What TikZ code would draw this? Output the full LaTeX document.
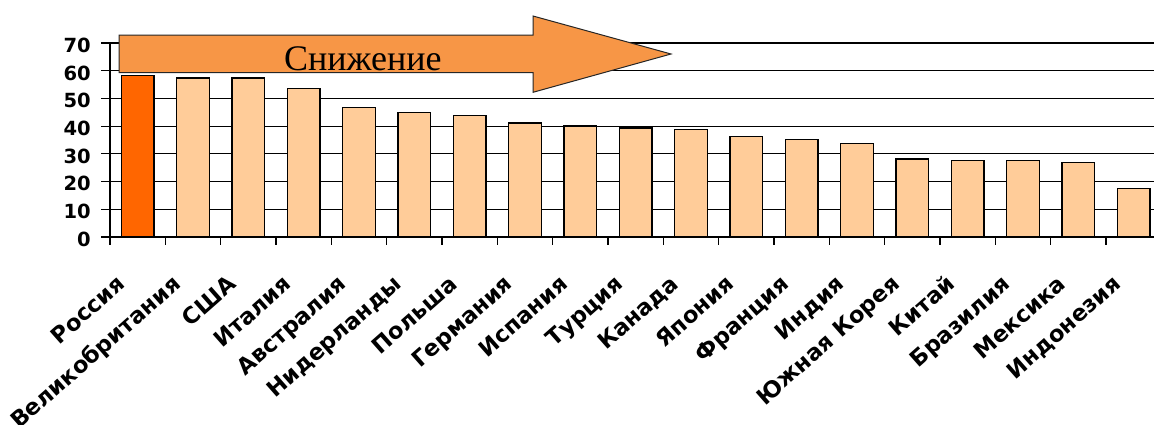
\documentclass[tikz,border=0pt]{standalone}
\usepackage{fontspec}
\setsansfont{DejaVu Sans}
\newfontfamily\trendfont{Liberation Serif}
\definecolor{barhi}{HTML}{FF6600}
\definecolor{barlo}{HTML}{FFCC99}
\definecolor{arrowfill}{HTML}{F79646}

\begin{document}
\begin{tikzpicture}[x=1pt,y=-1pt,
  gridline/.style={line width=1.2pt, black},
  axisline/.style={line width=1.6pt, black},
  bar/.style={draw=black, line width=1.3pt},
  ylab/.style={font=\sffamily\bfseries\fontsize{19.5}{20}\selectfont, anchor=base east, inner sep=0pt},
  catlab/.style={font=\sffamily\bfseries\fontsize{22.5}{23}\selectfont, anchor=north east,
                 rotate=41.4, inner sep=0pt, text height=16.4pt, text depth=0pt},
  trendarrow/.style={fill=arrowfill, draw=black!85, line width=1pt, line join=miter},
]
\useasboundingbox (0,0) rectangle (1154,424);

% horizontal grid and value scale
\foreach \v in {0,10,...,70} {
  \pgfmathsetmacro\gy{237-\v*194/70}
  \draw[gridline] (101,\gy) -- (1154,\gy);
  \node[ylab] (val\v) at (91,\gy+9.3) {\v};
}

% bars and category labels
\foreach \cname/\cval/\cfill [count=\i from 0] in {
  Россия/58.2/barhi, Великобритания/57.4/barlo, США/57.4/barlo, Италия/53.7/barlo,
  Австралия/46.8/barlo, Нидерланды/44.9/barlo, Польша/43.8/barlo, Германия/41.1/barlo,
  Испания/40.0/barlo, Турция/39.3/barlo, Канада/38.7/barlo, Япония/36.2/barlo,
  Франция/35.1/barlo, Индия/33.8/barlo, Южная Корея/28.1/barlo, Китай/27.5/barlo,
  Бразилия/27.5/barlo, Мексика/26.8/barlo, Индонезия/17.6/barlo} {
  \pgfmathsetmacro\cx{110+(\i+0.5)*55.33}
  \pgfmathsetmacro\bt{237-\cval*194/70}
  \draw[bar, fill=\cfill] (\cx-16.3,237) rectangle (\cx+16.3,\bt);
  \node[catlab] (cat\i) at (\cx-22,273.7) {\cname};
}

% axes and category ticks
\draw[axisline] (110,43) -- (110,237);
\draw[axisline] (110,237) -- (1154,237);
\foreach \k in {0,...,18}
  \draw[axisline, line width=1.3pt] (110+\k*55.33,237) -- ++(0,8);

% trend arrow with caption
\draw[trendarrow] (119,35) -- (533,35) -- (533,16) -- (671,54) -- (533,92.3)
  -- (533,72.7) -- (119,72.7) -- cycle;
\node[font=\trendfont\fontsize{36}{40}\selectfont, anchor=base west, inner sep=0pt]
  (trend) at (284,70.7) {Снижение};
\end{tikzpicture}
\end{document}
